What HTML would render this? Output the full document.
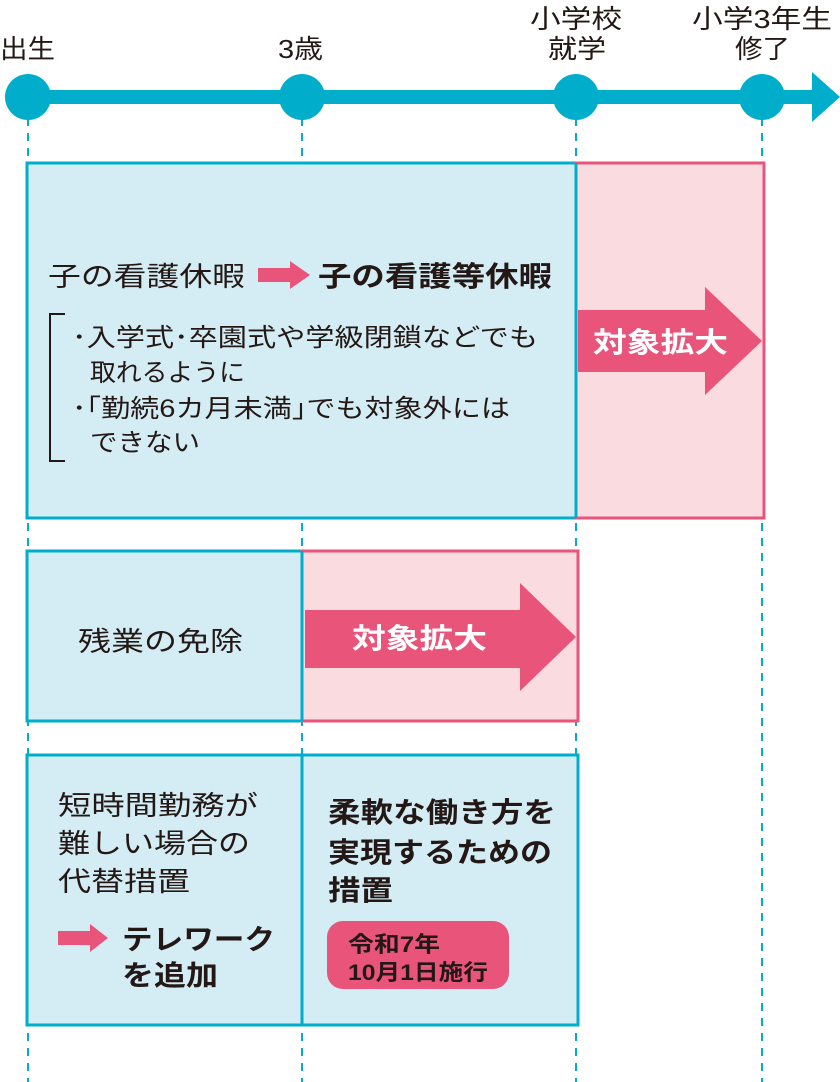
<!DOCTYPE html>
<html><head><meta charset="utf-8"><style>
body{margin:0;background:#fff}
svg{display:block}
text{font-family:"Liberation Sans","Noto Sans CJK JP",sans-serif;fill:#231815}
.b{font-weight:bold}
.w{fill:#fff;font-weight:bold}
</style></head><body>
<svg width="840" height="1082" viewBox="0 0 840 1082">
<g stroke="#00aecb" stroke-width="2" stroke-dasharray="8,7">
<line x1="28" y1="118" x2="28" y2="1082"/><line x1="302" y1="118" x2="302" y2="1082"/>
<line x1="576" y1="118" x2="576" y2="1082"/><line x1="762" y1="118" x2="762" y2="1082"/>
</g>
<rect x="20" y="90" width="798" height="14" fill="#00aecb"/>
<polygon points="812,72 840,97 812,122" fill="#00aecb"/>
<g fill="#00aecb"><circle cx="28" cy="97" r="23"/><circle cx="302" cy="97" r="23"/><circle cx="576" cy="97" r="23"/><circle cx="762" cy="97" r="23"/></g>
<g font-size="26" lengthAdjust="spacingAndGlyphs">
<text x="0" y="58" textLength="55" lengthAdjust="spacingAndGlyphs">出生</text>
<text x="278" y="58" textLength="45" lengthAdjust="spacingAndGlyphs">3歳</text>
<text x="530" y="28" textLength="92" lengthAdjust="spacingAndGlyphs">小学校</text>
<text x="548" y="58" textLength="58" lengthAdjust="spacingAndGlyphs">就学</text>
<text x="692" y="28" textLength="140" lengthAdjust="spacingAndGlyphs">小学3年生</text>
<text x="735" y="58" textLength="55" lengthAdjust="spacingAndGlyphs">修了</text>
</g>
<!-- box1 -->
<rect x="27" y="163" width="549" height="355" fill="#d4ecf4" stroke="#00aecb" stroke-width="3"/>
<rect x="576" y="163" width="188" height="355" fill="#f9dbe0" stroke="#e8547a" stroke-width="3"/>
<line x1="576" y1="163" x2="576" y2="518" stroke="#00aecb" stroke-width="3"/>
<polygon points="578,310 705,310 705,287 762,341 705,395 705,372 578,372" fill="#e8547a"/>
<text x="593" y="352" font-size="28" class="w" textLength="135" lengthAdjust="spacingAndGlyphs">対象拡大</text>
<text x="48" y="286" font-size="27" textLength="197" lengthAdjust="spacingAndGlyphs">子の看護休暇</text>
<polygon points="258,268 290,268 290,261 310,275 290,289 290,282 258,282" fill="#e8547a"/>
<text x="318" y="286" font-size="28" class="b" textLength="234" lengthAdjust="spacingAndGlyphs">子の看護等休暇</text>
<polyline points="65,314 50,314 50,461 65,461" fill="none" stroke="#231815" stroke-width="2"/>
<g font-size="25">
<text x="72" y="346" textLength="466" lengthAdjust="spacingAndGlyphs">･入学式･卒園式や学級閉鎖などでも</text>
<text x="90" y="381" textLength="155" lengthAdjust="spacingAndGlyphs">取れるように</text>
<text x="72" y="417" textLength="438" lengthAdjust="spacingAndGlyphs">･｢勤続6カ月未満｣でも対象外には</text>
<text x="90" y="451" textLength="110" lengthAdjust="spacingAndGlyphs">できない</text>
</g>
<!-- box2 -->
<rect x="27" y="551" width="275" height="170" fill="#d4ecf4" stroke="#00aecb" stroke-width="3"/>
<rect x="302" y="551" width="276" height="170" fill="#f9dbe0" stroke="#e8547a" stroke-width="3"/>
<line x1="302" y1="551" x2="302" y2="721" stroke="#00aecb" stroke-width="3"/>
<polygon points="305,610 520,610 520,583 576,637 520,691 520,668 305,668" fill="#e8547a"/>
<text x="352" y="648" font-size="28" class="w" textLength="135" lengthAdjust="spacingAndGlyphs">対象拡大</text>
<text x="78" y="651" font-size="27" textLength="165" lengthAdjust="spacingAndGlyphs">残業の免除</text>
<!-- box3 -->
<rect x="27" y="755" width="551" height="270" fill="#d4ecf4" stroke="#00aecb" stroke-width="3"/>
<line x1="302" y1="755" x2="302" y2="1025" stroke="#00aecb" stroke-width="3"/>
<g font-size="27">
<text x="58" y="815" textLength="200" lengthAdjust="spacingAndGlyphs">短時間勤務が</text>
<text x="58" y="853" textLength="192" lengthAdjust="spacingAndGlyphs">難しい場合の</text>
<text x="58" y="891" textLength="132" lengthAdjust="spacingAndGlyphs">代替措置</text>
</g>
<polygon points="58,931 90,931 90,924 108,938 90,952 90,945 58,945" fill="#e8547a"/>
<g font-size="28" class="b">
<text x="122" y="949" textLength="153" lengthAdjust="spacingAndGlyphs">テレワーク</text>
<text x="122" y="985" textLength="96" lengthAdjust="spacingAndGlyphs">を追加</text>
<text x="328" y="822" textLength="228" lengthAdjust="spacingAndGlyphs">柔軟な働き方を</text>
<text x="328" y="862" textLength="224" lengthAdjust="spacingAndGlyphs">実現するための</text>
<text x="328" y="900" textLength="65" lengthAdjust="spacingAndGlyphs">措置</text>
</g>
<rect x="327" y="921" width="182" height="68" rx="16" fill="#e8547a"/>
<g font-size="22" class="w">
<text x="348" y="952" textLength="92" lengthAdjust="spacingAndGlyphs">令和7年</text>
<text x="348" y="980" textLength="140" lengthAdjust="spacingAndGlyphs">10月1日施行</text>
</g>
</svg>
</body></html>
